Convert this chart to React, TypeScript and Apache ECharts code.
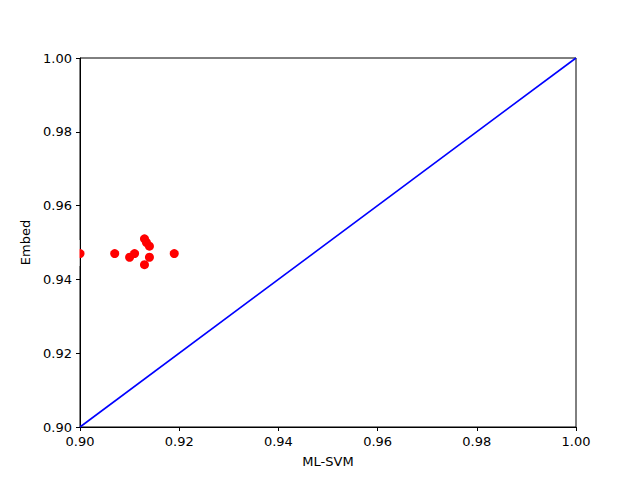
import React, { useEffect, useRef } from "react";
import * as echarts from "echarts";

const xValues = [0.9, 0.907, 0.910, 0.911, 0.913, 0.9134, 0.914, 0.914, 0.913, 0.919];
const yValues = [0.947, 0.947, 0.946, 0.947, 0.951, 0.950, 0.949, 0.946, 0.944, 0.947];
const diagonal = [[0.9, 0.9], [1.0, 1.0]];
const xName = "ML-SVM";
const yName = "Embed";

export default function App() {
  const ref = useRef<HTMLDivElement>(null);
  useEffect(() => {
    const chart = echarts.init(ref.current!, null, { renderer: "svg" });
    const font = "DejaVu Sans";
    const axisCommon = {
      min: 0.9,
      max: 1.0,
      interval: 0.02,
      axisLine: { show: true, onZero: false, lineStyle: { color: "#000", width: 1 } },
      axisTick: { show: true, inside: false, length: 4, lineStyle: { color: "#000" } },
      splitLine: { show: false },
      axisLabel: {
        color: "#000",
        fontFamily: font,
        fontSize: 13,
        formatter: (v: number) => v.toFixed(2),
      },
      nameLocation: "middle" as const,
      nameTextStyle: { color: "#000", fontFamily: font, fontSize: 13 },
    };
    chart.setOption({
      animation: false,
      backgroundColor: "#fff",
      grid: {
        left: 80,
        right: 64,
        top: 58,
        bottom: 53,
        show: true,
        borderColor: "#000",
        borderWidth: 1,
        backgroundColor: "transparent",
      },
      xAxis: { ...axisCommon, type: "value", name: xName, nameGap: 28, axisLabel: { ...axisCommon.axisLabel, margin: 8 } },
      yAxis: { ...axisCommon, type: "value", name: yName, nameGap: 46, axisLabel: { ...axisCommon.axisLabel, margin: 8 } },
      graphic: [
        {
          type: "rect",
          left: 68,
          top: 240,
          shape: { width: 11.5, height: 26 },
          style: { fill: "#fff" },
          z: 100,
        },
      ],
      series: [
        {
          type: "line",
          data: diagonal,
          showSymbol: false,
          symbol: "none",
          lineStyle: { color: "#0000ff", width: 1.6 },
          silent: true,
        },
        {
          type: "scatter",
          data: xValues.map((x, i) => [x, yValues[i]]),
          symbol: "circle",
          symbolSize: 9,
          itemStyle: { color: "#ff0000", opacity: 1 },
          clip: true,
        },
      ],
    });
    return () => chart.dispose();
  }, []);
  return <div ref={ref} style={{ width: 640, height: 480, position: "absolute", left: 0, top: 0 }} />;
}
